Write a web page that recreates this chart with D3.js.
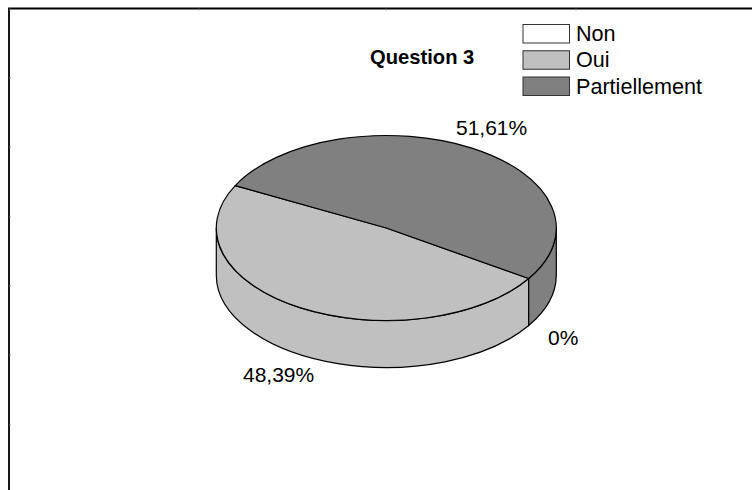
<!DOCTYPE html>
<html>
<head>
<meta charset="utf-8">
<script src="https://cdn.jsdelivr.net/npm/d3@7"></script>
<style>
html, body { margin: 0; padding: 0; background: #fff; }
svg { display: block; font-family: "Liberation Sans", Arial, sans-serif; }
</style>
</head>
<body>
<svg id="chart" width="752" height="490"></svg>
<script>
// Data
var categories = ["Non", "Oui", "Partiellement"];
var values = [0, 48.39, 51.61];
var valueLabels = ["0%", "48,39%", "51,61%"];
var sliceColors = ["#ffffff", "#c0c0c0", "#808080"];
var chartTitle = "Question 3";
var leftTicks = [78, 147, 217, 286, 355, 425];
var topTicks = [10, 199, 386, 576];

// Pie geometry
var cx = 386.3, cy = 228, rx = 170, ry = 92.5, depth = 47;
var startDeg = 123.1;

var svg = d3.select("#chart");

var xScale = d3.scaleLinear().domain([-1, 1]).range([cx - rx, cx + rx]);
var yScale = d3.scaleLinear().domain([-1, 1]).range([cy - ry, cy + ry]);

var pie = d3.pie().sort(null).startAngle(startDeg * Math.PI / 180).endAngle((startDeg + 360) * Math.PI / 180);
var slices = pie(values);

function px(a) { return xScale(Math.sin(a)); }
function py(a) { return yScale(-Math.cos(a)); }

function topPath(s) {
    var large = s.endAngle - s.startAngle > Math.PI ? 1 : 0;
    return "M" + cx + "," + cy + "L" + px(s.startAngle) + "," + py(s.startAngle)
        + "A" + rx + "," + ry + " 0 " + large + " 1 " + px(s.endAngle) + "," + py(s.endAngle) + "Z";
}

// only the front half of the rim (90 to 270 degrees) is visible
function wallPath(a0, a1) {
    var large = a1 - a0 > Math.PI ? 1 : 0;
    return "M" + px(a0) + "," + py(a0)
        + "A" + rx + "," + ry + " 0 " + large + " 1 " + px(a1) + "," + py(a1)
        + "L" + px(a1) + "," + (py(a1) + depth)
        + "A" + rx + "," + ry + " 0 " + large + " 0 " + px(a0) + "," + (py(a0) + depth) + "Z";
}

var walls = [];
slices.forEach(function(s, i) {
    for (var k = 0; k < 2; k++) {
        var a0 = Math.max(s.startAngle, Math.PI / 2 + k * 2 * Math.PI);
        var a1 = Math.min(s.endAngle, 3 * Math.PI / 2 + k * 2 * Math.PI);
        if (a1 > a0) walls.push({ a0: a0, a1: a1, color: sliceColors[i] });
    }
});

svg.append("g").selectAll("path")
    .data(walls)
    .enter()
    .append("path")
    .attr("d", function(d) { return wallPath(d.a0, d.a1); })
    .attr("fill", function(d) { return d.color; })
    .attr("stroke", "#000")
    .attr("stroke-width", 1.2);

svg.append("g").selectAll("path")
    .data(slices.filter(function(s) { return s.value > 0; }))
    .enter()
    .append("path")
    .attr("d", topPath)
    .attr("fill", function(d) { return sliceColors[d.index]; })
    .attr("stroke", "#000")
    .attr("stroke-width", 1.2)
    .attr("stroke-linejoin", "round");

// Frame
var frame = svg.append("g").attr("stroke", "#000");
frame.append("path")
    .attr("d", "M9,490V8.5H752")
    .attr("fill", "none")
    .attr("stroke-width", 1.8);
frame.selectAll(".ltick").data(leftTicks).enter().append("line")
    .attr("class", "ltick")
    .attr("x1", 9).attr("x2", 11)
    .attr("y1", function(d) { return d; }).attr("y2", function(d) { return d; })
    .attr("stroke-width", 0.8).attr("stroke", "#888");
frame.selectAll(".ttick").data(topTicks).enter().append("line")
    .attr("class", "ttick")
    .attr("y1", 8.5).attr("y2", 10.5)
    .attr("x1", function(d) { return d; }).attr("x2", function(d) { return d; })
    .attr("stroke-width", 0.8).attr("stroke", "#888");

// Title
svg.append("text")
    .attr("x", 370).attr("y", 64)
    .attr("font-size", 20.2).attr("font-weight", "bold").attr("fill", "#000")
    .text(chartTitle);

// Legend
var legendY = d3.scalePoint().domain(categories).range([24.5, 77]);
var legend = svg.append("g").selectAll("g")
    .data(categories)
    .enter()
    .append("g")
    .attr("transform", function(d) { return "translate(523," + legendY(d) + ")"; });
legend.append("rect")
    .attr("width", 46.5).attr("height", 18.5)
    .attr("fill", function(d, i) { return sliceColors[i]; })
    .attr("stroke", "#333").attr("stroke-width", 1);
legend.append("text")
    .attr("x", 53).attr("y", 16.5)
    .attr("font-size", 21.6).attr("fill", "#000")
    .text(function(d) { return d; });

// Value labels
var labelPos = [[548, 345], [243, 382], [456, 135]];
svg.append("g").selectAll("text")
    .data(valueLabels)
    .enter()
    .append("text")
    .attr("x", function(d, i) { return labelPos[i][0]; })
    .attr("y", function(d, i) { return labelPos[i][1]; })
    .attr("font-size", 21).attr("fill", "#000")
    .text(function(d) { return d; });
</script>
</body>
</html>
